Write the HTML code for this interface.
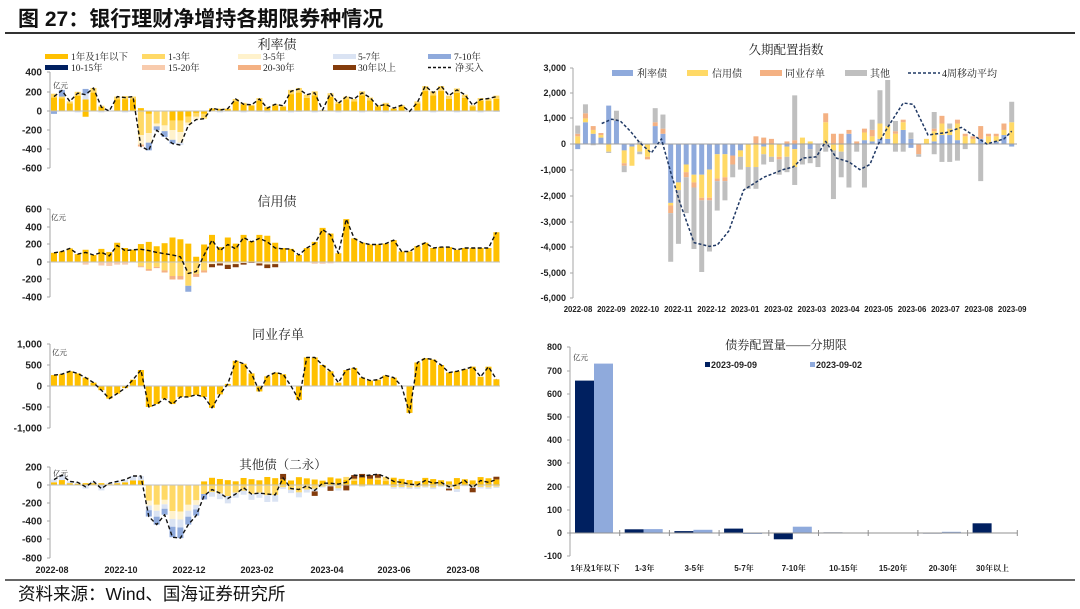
<!DOCTYPE html>
<html><head><meta charset="utf-8">
<style>
html,body{margin:0;padding:0;background:#fff;}
svg{display:block;}
.ax{font-family:"Liberation Sans",sans-serif;font-weight:bold;fill:#222;}
.sf{font-family:"Liberation Serif","Noto Serif CJK SC",serif;fill:#222;}
.cat{font-family:"Liberation Sans","Noto Serif CJK SC",sans-serif;font-weight:bold;fill:#222;font-size:8px;}
</style></head><body>
<svg id="ch" width="1080" height="609" viewBox="0 0 1080 609" xmlns="http://www.w3.org/2000/svg">
<rect x="0" y="0" width="1080" height="609" fill="#fff"/>
<text x="18" y="26" font-size="21" font-weight="bold" font-family="Liberation Sans, Noto Sans CJK SC, sans-serif" fill="#111">图 27：银行理财净增持各期限券种情况</text>
<line x1="5" y1="33" x2="1075" y2="33" stroke="#333" stroke-width="2"/>
<line x1="5" y1="580" x2="1075" y2="580" stroke="#333" stroke-width="1.6"/>
<text x="18" y="600" font-size="17.5" font-family="Liberation Sans, Noto Sans CJK SC, sans-serif" fill="#111">资料来源：Wind、国海证券研究所</text>

<g id="bars"></g>

<!-- Panel 1 -->
<text class="sf" x="277" y="49" font-size="13" text-anchor="middle">利率债</text>
<g class="sf" font-size="9.5">
<rect x="45" y="54" width="23" height="5" fill="#FFC000"/><text x="71" y="60">1年及1年以下</text>
<rect x="142" y="54" width="23" height="5" fill="#FFD966"/><text x="168" y="60">1-3年</text>
<rect x="238" y="54" width="23" height="5" fill="#FFF2CC"/><text x="263" y="60">3-5年</text>
<rect x="333" y="54" width="23" height="5" fill="#DAE3F3"/><text x="358" y="60">5-7年</text>
<rect x="428" y="54" width="23" height="5" fill="#8FAADC"/><text x="454" y="60">7-10年</text>
<rect x="45" y="65" width="23" height="5" fill="#002060"/><text x="71" y="71">10-15年</text>
<rect x="142" y="65" width="23" height="5" fill="#F8CBAD"/><text x="168" y="71">15-20年</text>
<rect x="238" y="65" width="23" height="5" fill="#F4B183"/><text x="263" y="71">20-30年</text>
<rect x="333" y="65" width="23" height="5" fill="#843C0C"/><text x="358" y="71">30年以上</text>
<line x1="428" y1="67.5" x2="452" y2="67.5" stroke="#111" stroke-width="1.5" stroke-dasharray="3 2"/><text x="455" y="71">净买入</text>
</g>
<g class="ax" font-size="10" text-anchor="end">
<text x="42" y="75.5">400</text><text x="42" y="95.5">200</text><text x="42" y="114.5">0</text><text x="42" y="133.5">-200</text><text x="42" y="152.5">-400</text><text x="42" y="171.5">-600</text>
</g>
<text class="sf" x="53" y="88" font-size="7.5">亿元</text>

<!-- Panel 2 -->
<text class="sf" x="277" y="206" font-size="13" text-anchor="middle">信用债</text>
<g class="ax" font-size="10" text-anchor="end">
<text x="42" y="212.5">600</text><text x="42" y="230.5">400</text><text x="42" y="247.5">200</text><text x="42" y="265.5">0</text><text x="42" y="282.5">-200</text><text x="42" y="300.5">-400</text>
</g>
<text class="sf" x="51" y="220" font-size="7.5">亿元</text>

<!-- Panel 3 -->
<text class="sf" x="278" y="339" font-size="13" text-anchor="middle">同业存单</text>
<g class="ax" font-size="10" text-anchor="end">
<text x="42" y="347.5">1,000</text><text x="42" y="368.5">500</text><text x="42" y="389.5">0</text><text x="42" y="410.5">-500</text><text x="42" y="431.5">-1,000</text>
</g>
<text class="sf" x="52" y="355" font-size="7.5">亿元</text>

<!-- Panel 4 -->
<text class="sf" x="283" y="469" font-size="12.5" text-anchor="middle">其他债（二永）</text>
<g class="ax" font-size="10" text-anchor="end">
<text x="42" y="470.5">200</text><text x="42" y="488.5">0</text><text x="42" y="506.5">-200</text><text x="42" y="524.5">-400</text><text x="42" y="542.5">-600</text><text x="42" y="561.5">-800</text>
</g>
<text class="sf" x="53" y="476" font-size="7.5">亿元</text>
<g class="ax" font-size="9" text-anchor="middle">
<text x="52" y="573">2022-08</text><text x="121" y="573">2022-10</text><text x="189" y="573">2022-12</text><text x="257" y="573">2023-02</text><text x="327" y="573">2023-04</text><text x="394" y="573">2023-06</text><text x="463" y="573">2023-08</text>
</g>

<!-- Right top -->
<text class="sf" x="786" y="54" font-size="12.5" text-anchor="middle">久期配置指数</text>
<g class="sf" font-size="10">
<rect x="612" y="70" width="21" height="6" fill="#8FAADC"/><text x="637" y="77">利率债</text>
<rect x="687" y="70" width="21" height="6" fill="#FFD966"/><text x="712" y="77">信用债</text>
<rect x="760" y="70" width="22" height="6" fill="#F4B183"/><text x="785" y="77">同业存单</text>
<rect x="845" y="70" width="22" height="6" fill="#BFBFBF"/><text x="870" y="77">其他</text>
<line x1="908" y1="73" x2="940" y2="73" stroke="#1F3864" stroke-width="1.5" stroke-dasharray="3 2"/><text x="942" y="77">4周移动平均</text>
</g>
<g class="ax" font-size="9" text-anchor="end">
<text x="566" y="71">3,000</text><text x="566" y="96">2,000</text><text x="566" y="121">1,000</text><text x="566" y="147">0</text><text x="566" y="173">-1,000</text><text x="566" y="199">-2,000</text><text x="566" y="225">-3,000</text><text x="566" y="250">-4,000</text><text x="566" y="276">-5,000</text><text x="566" y="301">-6,000</text>
</g>
<g class="ax" font-size="7.8" text-anchor="middle">
<text x="578" y="312">2022-08</text><text x="611.4" y="312">2022-09</text><text x="644.8" y="312">2022-10</text><text x="678.2" y="312">2022-11</text><text x="711.6" y="312">2022-12</text><text x="745" y="312">2023-01</text><text x="778.4" y="312">2023-02</text><text x="811.8" y="312">2023-03</text><text x="845.2" y="312">2023-04</text><text x="878.6" y="312">2023-05</text><text x="912" y="312">2023-06</text><text x="945.4" y="312">2023-07</text><text x="978.8" y="312">2023-08</text><text x="1012.2" y="312">2023-09</text>
</g>

<!-- Right bottom -->
<text class="sf" x="786" y="349" font-size="12.2" text-anchor="middle">债券配置量——分期限</text>
<rect x="705" y="362" width="5" height="5" fill="#002060"/><text class="ax" x="711" y="368" font-size="9">2023-09-09</text>
<rect x="810" y="362" width="5" height="5" fill="#8FAADC"/><text class="ax" x="816" y="368" font-size="9">2023-09-02</text>
<g class="ax" font-size="9" text-anchor="end">
<text x="562" y="350">800</text><text x="562" y="374">700</text><text x="562" y="397">600</text><text x="562" y="420">500</text><text x="562" y="443">400</text><text x="562" y="466">300</text><text x="562" y="490">200</text><text x="562" y="513">100</text><text x="562" y="536">0</text><text x="562" y="559">-100</text>
</g>
<text class="sf" x="573" y="360" font-size="7.5">亿元</text>
<g>
<rect x="575" y="380.6" width="19" height="152.4" fill="#002060"/><rect x="594" y="363.6" width="19" height="169.4" fill="#8FAADC"/>
<rect x="624.7" y="529.3" width="19" height="3.7" fill="#002060"/><rect x="643.7" y="529.1" width="19" height="3.9" fill="#8FAADC"/>
<rect x="674.4" y="531.1" width="19" height="1.9" fill="#002060"/><rect x="693.4" y="529.8" width="19" height="3.2" fill="#8FAADC"/>
<rect x="724.1" y="528.6" width="19" height="4.4" fill="#002060"/><rect x="743.1" y="533" width="19" height="1" fill="#8FAADC"/>
<rect x="773.8" y="533" width="19" height="6.3" fill="#002060"/><rect x="792.8" y="526.7" width="19" height="6.3" fill="#8FAADC"/>
<rect x="823.5" y="532.4" width="19" height="0.6" fill="#002060"/>
<rect x="922.9" y="533" width="19" height="0.6" fill="#002060"/><rect x="941.9" y="531.8" width="19" height="1.2" fill="#8FAADC"/>
<rect x="972.6" y="523.3" width="19" height="9.7" fill="#002060"/>
</g>
<g class="cat" text-anchor="middle">
<text x="595" y="571">1年及1年以下</text><text x="644.6" y="571">1-3年</text><text x="694.3" y="571">3-5年</text><text x="744" y="571">5-7年</text><text x="793.7" y="571">7-10年</text><text x="843.4" y="571">10-15年</text><text x="893.1" y="571">15-20年</text><text x="942.8" y="571">20-30年</text><text x="992.5" y="571">30年以上</text>
</g>

<g id="axes"></g>
<g id="lines"></g>
</svg>
<script>
const NS='http://www.w3.org/2000/svg';
const G=document.getElementById('bars'),A=document.getElementById('axes'),L=document.getElementById('lines');
function el(tag,at,p){const e=document.createElementNS(NS,tag);for(const k in at)e.setAttribute(k,at[k]);p.appendChild(e);return e;}
function stack(x,w,y0,k,segs){let up=0,dn=0;for(const s of segs){const v=s[0],c=s[1];if(!v)continue;const h=Math.abs(v)*k;if(v>0){el('rect',{x:x,y:(y0-up-h).toFixed(2),width:w,height:h.toFixed(2),fill:c},G);up+=h;}else{el('rect',{x:x,y:(y0+dn).toFixed(2),width:w,height:h.toFixed(2),fill:c},G);dn+=h;}}}
function line(pts,stroke,dash,sw){el('polyline',{points:pts.map(p=>p[0].toFixed(1)+','+p[1].toFixed(1)).join(' '),fill:'none',stroke:stroke,'stroke-width':sw,'stroke-dasharray':dash,'stroke-linejoin':'round'},L);}
function hl(x1,x2,y,c,w){el('line',{x1:x1,x2:x2,y1:y,y2:y,stroke:c,'stroke-width':w||1},A);}
function vl(x,y1,y2,c,w){el('line',{x1:x,x2:x,y1:y1,y2:y2,stroke:c,'stroke-width':w||1},A);}
const C1='#FFC000',C2='#FFD966',C3='#FFF2CC',C4='#DAE3F3',C5='#8FAADC',C6='#002060',C7='#F8CBAD',C8='#F4B183',C9='#843C0C';
const AXC='#A6A6A6';
function bx(i){return 50+1+7.9*i;}
function cx(i){return 54+7.9*i;}

// Panel 1
const n1=[150,215,100,185,170,240,40,0,150,140,150,-370,-410,-200,-270,-340,-355,-150,-90,-80,30,10,25,125,70,65,125,30,70,55,205,230,170,190,10,185,80,150,125,190,140,50,70,30,60,-5,90,260,190,260,160,220,170,60,120,130,150];
const sp1={0:[[140,C1],[40,C2],[-30,C5]],1:[[130,C1],[20,C2],[70,C5]],4:[[120,C1],[60,C4],[50,C5],[-60,C1]],
11:[[30,C1],[-250,C2],[-100,C3],[-20,C8]],12:[[-30,C1],[-200,C2],[-100,C3],[-80,C5]],13:[[-130,C2],[-30,C3],[-40,C5]],
14:[[-150,C2],[-60,C3],[-60,C5]],15:[[-100,C1],[-100,C2],[-100,C3],[-40,C5]],16:[[-100,C1],[-120,C2],[-110,C3],[-25,C4]],
17:[[-60,C1],[-60,C2],[-30,C3]],18:[[-20,C1],[-40,C2],[-30,C3]],19:[[-30,C1],[-50,C2]]};
n1.forEach((v,i)=>{let s=sp1[i];if(!s){if(v>=0){const ng=(i%3==0)?-15:((i%5==1)?-10:0);const p=v-ng;s=[[p*0.8,C1],[p*0.2,C2],[ng,C4]];}else s=[[v,C1]];}stack(bx(i),6,111,0.096,s);});
line(n1.map((v,i)=>[cx(i),111-v*0.096]),'#111','4 2.5',1.4);
vl(50,72,168,AXC);hl(50,500,111,'#BFBFBF');
[72,92,111,130,149,168].forEach(y=>hl(47,50,y,AXC));

// Panel 2
const n2=[105,120,155,90,110,80,110,70,190,130,140,145,130,110,95,80,60,-130,-110,80,250,130,200,150,280,230,270,230,160,150,150,80,160,210,370,310,100,490,270,220,200,200,210,250,120,120,180,220,160,170,170,140,160,160,160,160,340];
const ng2={4:-30,6:-40,7:-45,8:-30,9:-30,11:-60,12:-100,13:-70,14:-120,15:-200,16:-200,17:-340,18:-170,19:-120,20:-60,21:-40,22:-80,23:-60,24:-30,25:-10,26:-40,27:-70,28:-60,29:-10,33:-20,34:-20,35:-15};
n2.forEach((v,i)=>{const n=ng2[i]||0;const p=v-n;let s=[[p,C1]];if(n){if(i>=11&&i<=19)s.push([n*0.8,C2],[n*0.2,i==17?C5:C8]);else if(i>=20&&i<=28)s.push([n*0.4,C3],[n*0.6,C9]);else s.push([n,C7]);}stack(bx(i),6,262,0.0875,s);});
line(n2.map((v,i)=>[cx(i),262-v*0.0875]),'#111','4 2.5',1.4);
vl(50,209,297,AXC);hl(50,500,262,'#BFBFBF');
[209,227,244,262,279,297].forEach(y=>hl(47,50,y,AXC));

// Panel 3
const n3=[260,280,350,300,200,80,-100,-300,-180,-50,150,380,-500,-430,-300,-430,-260,-260,-210,-260,-520,-200,50,600,530,300,-130,230,320,280,0,-330,680,680,500,350,80,380,430,200,130,150,250,200,0,-640,560,660,630,500,320,350,400,460,220,460,160];
n3.forEach((v,i)=>stack(bx(i),6,386,0.042,[[v,C1]]));
line(n3.map((v,i)=>[cx(i),386-v*0.042]),'#111','4 2.5',1.4);
vl(50,344,428,AXC);hl(50,500,386,'#BFBFBF');
[344,365,386,407,428].forEach(y=>hl(47,50,y,AXC));

// Panel 4
const n4=[60,110,40,30,-20,40,-40,20,40,60,100,100,-350,-440,-330,-580,-590,-440,-340,-120,-50,-90,-150,-100,-30,-100,-90,-100,-110,80,-40,-50,-10,-60,20,20,10,30,110,100,110,120,90,40,30,10,0,50,20,30,-20,0,50,-30,50,30,60];
const br4={29:60,33:-50,35:-50,37:-60,38:40,39:40,40:40,41:40,50:-20,53:-50,56:30};
n4.forEach((v,i)=>{let s;
 if(i>=12&&i<=18){s=[[v*0.5,C2],[v*0.15,C3],[v*0.15,C4],[v*0.2,C5]];}
 else if(i==19){s=[[40,C1],[-100,C2],[-60,C5]];}
 else if(i<12){s=v>=0?[[v*0.5,C1],[v*0.5,C4]]:[[20,C1],[v-20,C4]];}
 else{const g=40+((i*37)%50);const b=br4[i]||0;const r=v-g-b;s=[[g,C1]];if(r>=0)s.push([r,C2]);else s.push([r*0.6,C2],[r*0.4,C4]);if(b)s.push([b,C9]);}
 stack(bx(i),6,485,0.09,s);});
line(n4.map((v,i)=>[cx(i),485-v*0.09]),'#111','4 2.5',1.4);
vl(50,467,558,AXC);hl(50,500,485,'#BFBFBF');
[467,485,503,521,539,558].forEach(y=>hl(47,50,y,AXC));

// Right top
const R=[
[0,300,100,320,200,0,0,0],[850,150,200,350,0,0,0,0],[400,150,150,0,0,0,0,50],[250,100,80,0,0,0,0,0],
[1500,0,0,0,0,300,0,50],[900,0,0,400,0,0,0,0],[0,0,0,0,250,500,100,250],[0,0,0,0,100,750,0,0],
[0,0,0,100,0,300,0,100],[0,0,0,0,0,500,100,0],[700,0,150,550,0,0,0,0],[400,0,200,550,0,0,0,0],
[0,0,0,0,2300,100,300,1900],[0,0,0,0,1500,300,0,2100],[0,0,0,0,800,300,200,1400],[0,0,0,0,1200,300,200,2400],
[0,0,0,0,1200,900,100,2800],[0,0,0,0,1000,1100,100,2000],[0,0,0,0,400,950,100,1150],[0,0,0,0,400,900,150,750],
[0,0,0,0,450,0,350,500],[0,0,0,0,250,250,0,500],[0,0,0,0,0,900,0,850],[0,0,300,0,0,900,0,850],
[0,0,250,0,100,300,0,400],[0,0,200,0,0,500,0,200],[0,0,0,0,0,500,100,600],[0,0,100,0,100,400,0,600],
[0,0,150,1750,200,700,0,700],[0,250,0,0,0,0,0,800],[0,100,0,0,200,0,0,550],[0,0,0,0,0,0,0,900],
[0,850,350,0,0,0,0,300],[0,0,400,0,0,250,0,1900],[0,0,400,0,0,300,0,1000],[400,0,150,0,0,0,0,1700],
[0,0,100,0,0,0,0,300],[150,300,150,0,0,0,0,1700],[100,200,250,400,0,0,0,0],[200,600,0,1300,0,0,0,0],
[200,500,0,1800,0,0,0,0],[0,400,100,400,0,0,0,300],[550,300,100,0,0,0,0,300],[200,0,0,250,150,0,0,0],
[0,0,0,0,0,0,400,100],[0,200,0,0,0,0,0,0],[100,400,100,650,0,0,0,400],[350,450,300,0,0,0,0,700],
[350,250,0,200,0,0,0,700],[150,650,150,0,0,0,0,650],[0,300,100,0,0,0,0,200],[0,200,100,0,0,0,0,0],
[200,0,500,0,0,0,0,1450],[0,300,100,0,0,0,0,0],[100,200,100,0,0,0,0,0],[350,200,250,0,0,0,0,0],[0,850,0,800,100,0,0,0]];
const RC=['#8FAADC','#FFD966','#F4B183','#BFBFBF'];
R.forEach((r,i)=>{const s=[];for(let j=0;j<4;j++)s.push([r[j],RC[j]]);for(let j=0;j<4;j++)s.push([-r[4+j],RC[j]]);stack(575.2+7.75*i,5,144,0.0256,s);});
const ma=[[3.1,800],[4.4,970],[5.5,900],[6.8,500],[8,50],[9.5,-350],[10.8,200],[12,-1100],[13.2,-2300],[15,-3850],[17,-4000],[18,-3950],[19.5,-3400],[21.4,-1800],[24,-1300],[26.5,-1000],[27.8,-900],[29,-550],[30.8,-500],[32,100],[33.4,-550],[35,-700],[36.4,-1000],[37.7,-800],[38.8,0],[39.9,600],[42,1600],[43.3,1550],[45.2,350],[47.6,450],[49.5,650],[52.8,0],[55,200],[56,500]];
line(ma.map(p=>[577.7+7.75*p[0],144-p[1]*0.0256]),'#1F3864','3 2',1.5);
vl(573,68,298,AXC);hl(573,1017,144,'#A0A0A0');
[68,93,118,144,170,196,222,247,273,298].forEach(y=>hl(570,573,y,AXC));

// Right bottom axes
vl(570,347,556,AXC);hl(570,1017,533,'#909090');
[347,371,394,417,440,463,487,510,533,556].forEach(y=>hl(567,570,y,AXC));
for(let k=0;k<=9;k++)vl(570+49.7*k,530,536,'#909090');
</script>
</body></html>
